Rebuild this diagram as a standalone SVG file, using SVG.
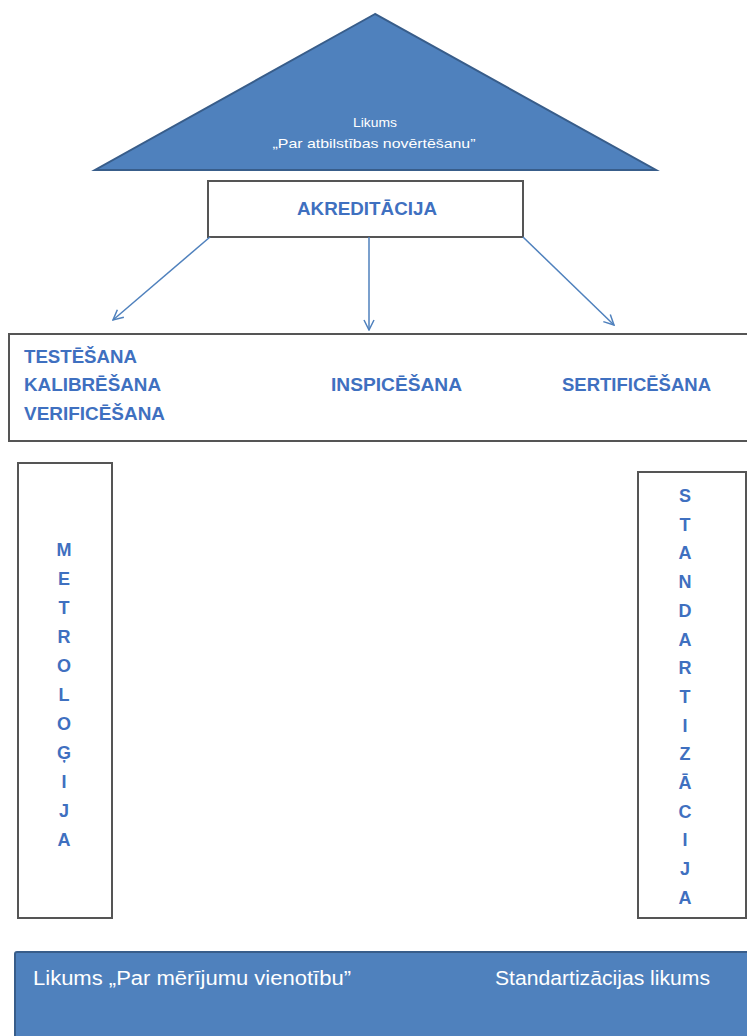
<svg xmlns="http://www.w3.org/2000/svg" width="747" height="1036" viewBox="0 0 747 1036">
<defs>
<style>
.box{fill:#fff;stroke:#555;stroke-width:2}
.blue{fill:#4f81bd;stroke:#385d8a;stroke-width:2}
.bt{font-family:"Liberation Sans",Arial,sans-serif;font-weight:bold;fill:#3f70c0;font-size:19px}
.vt{font-family:"Liberation Sans",Arial,sans-serif;font-weight:bold;fill:#3f70c0;font-size:18px;text-anchor:middle}
.wt{font-family:"Liberation Sans",Arial,sans-serif;fill:#fff}
.conn{stroke:#4f81bd;stroke-width:1.5;fill:none}
</style>
<marker id="ah" viewBox="0 0 12 12" refX="11" refY="6" markerWidth="12" markerHeight="12" markerUnits="userSpaceOnUse" orient="auto">
<path d="M1,1 L11,6 L1,11" fill="none" stroke="#4f81bd" stroke-width="1.5"/>
</marker>
</defs>
<rect width="747" height="1036" fill="#fff"/>
<g id="likums-top">
<polygon class="blue" points="375,14 95,170 656,170"/>
<text class="wt" x="375" y="127" font-size="13" text-anchor="middle" textLength="44" lengthAdjust="spacingAndGlyphs">Likums</text>
<text class="wt" x="374" y="148" font-size="13" text-anchor="middle" textLength="203" lengthAdjust="spacingAndGlyphs">„Par atbilstības novērtēšanu”</text>
</g>
<g id="akreditacija">
<rect class="box" x="208" y="181" width="315" height="56"/>
<text class="bt" x="367" y="215" text-anchor="middle" textLength="140" lengthAdjust="spacingAndGlyphs">AKREDITĀCIJA</text>
</g>
<g id="connectors">
<line class="conn" x1="210" y1="237" x2="113" y2="320" marker-end="url(#ah)"/>
<line class="conn" x1="369" y1="237" x2="369" y2="330" marker-end="url(#ah)"/>
<line class="conn" x1="523" y1="237" x2="614" y2="325" marker-end="url(#ah)"/>
</g>
<g id="darbibas">
<rect class="box" x="9" y="334" width="745" height="107"/>
<text class="bt" x="24" y="363" textLength="113" lengthAdjust="spacingAndGlyphs">TESTĒŠANA</text>
<text class="bt" x="24" y="391" textLength="137" lengthAdjust="spacingAndGlyphs">KALIBRĒŠANA</text>
<text class="bt" x="24" y="420" textLength="141" lengthAdjust="spacingAndGlyphs">VERIFICĒŠANA</text>
<text class="bt" x="331" y="391" textLength="131" lengthAdjust="spacingAndGlyphs">INSPICĒŠANA</text>
<text class="bt" x="562" y="391" textLength="149" lengthAdjust="spacingAndGlyphs">SERTIFICĒŠANA</text>
</g>
<g id="metrologija">
<rect class="box" x="18" y="463" width="94" height="455"/>
<text class="vt" x="64" y="556">M</text>
<text class="vt" x="64" y="585">E</text>
<text class="vt" x="64" y="614">T</text>
<text class="vt" x="64" y="643">R</text>
<text class="vt" x="64" y="672">O</text>
<text class="vt" x="64" y="701">L</text>
<text class="vt" x="64" y="730">O</text>
<text class="vt" x="64" y="759">Ģ</text>
<text class="vt" x="64" y="788">I</text>
<text class="vt" x="64" y="817">J</text>
<text class="vt" x="64" y="846">A</text>
</g>
<g id="standartizacija">
<rect class="box" x="638" y="472" width="108" height="446"/>
<text class="vt" x="685" y="502">S</text>
<text class="vt" x="685" y="531">T</text>
<text class="vt" x="685" y="559">A</text>
<text class="vt" x="685" y="588">N</text>
<text class="vt" x="685" y="617">D</text>
<text class="vt" x="685" y="646">A</text>
<text class="vt" x="685" y="674">R</text>
<text class="vt" x="685" y="703">T</text>
<text class="vt" x="685" y="732">I</text>
<text class="vt" x="685" y="760">Z</text>
<text class="vt" x="685" y="789">Ā</text>
<text class="vt" x="685" y="818">C</text>
<text class="vt" x="685" y="846">I</text>
<text class="vt" x="685" y="875">J</text>
<text class="vt" x="685" y="904">A</text>
</g>
<g id="likumi-bottom">
<rect class="blue" x="15" y="952" width="745" height="100" rx="2"/>
<text class="wt" x="33" y="985" font-size="20" textLength="318" lengthAdjust="spacingAndGlyphs">Likums „Par mērījumu vienotību”</text>
<text class="wt" x="495" y="985" font-size="20" textLength="215" lengthAdjust="spacingAndGlyphs">Standartizācijas likums</text>
</g>
</svg>
